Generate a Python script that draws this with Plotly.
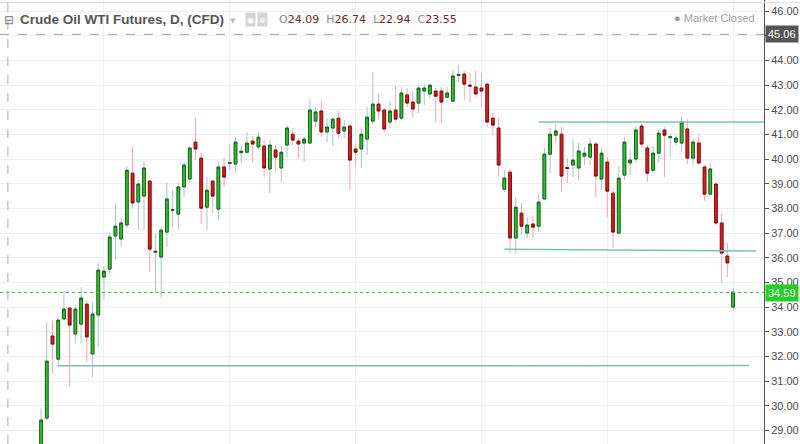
import plotly.graph_objects as go

# ---- data ----
opens = [28.30, 29.50, 32.83, 31.89, 33.52, 33.96, 32.91, 33.31, 34.12, 32.10,
         33.68, 35.22, 35.54, 36.88, 36.76, 37.33, 39.43, 38.26, 38.50, 39.11,
         36.22, 36.03, 37.04, 37.92, 37.77, 38.87, 39.19, 40.69, 40.04, 38.05,
         39.11, 37.97, 39.68, 39.82, 39.80, 40.26, 40.28, 40.73, 40.49, 40.53,
         39.60, 40.37, 39.64, 40.57, 41.01, 40.73, 40.65, 40.65, 41.54, 41.95,
         41.10, 41.26, 41.66, 41.14, 41.34, 40.41, 40.41, 40.81, 41.54, 42.23,
         41.99, 41.50, 41.99, 41.66, 42.60, 42.31, 42.27, 42.76, 42.64, 42.76,
         42.76, 42.51, 42.35, 43.39, 43.45, 43.00, 42.92, 42.88, 43.04, 41.66,
         41.26, 38.78, 39.47, 36.80, 37.81, 37.00, 37.37, 37.28, 38.38, 40.20,
         40.97, 41.01, 39.66, 39.76, 39.64, 40.12, 40.08, 40.61, 39.19, 39.88,
         38.62, 37.00, 39.35, 39.84, 40.00, 41.34, 40.45, 39.55, 40.24, 41.18,
         40.87, 40.69, 40.65, 41.22, 40.04, 40.65, 39.68, 38.58, 38.99, 37.41,
         36.07, 34.00]
highs = [29.90, 33.35, 33.43, 33.56, 34.65, 34.00, 34.00, 34.81, 34.29, 34.20,
         35.79, 35.66, 37.04, 38.22, 37.61, 39.72, 40.49, 39.15, 39.92, 39.15,
         37.00, 37.24, 39.07, 38.74, 39.03, 39.88, 40.53, 41.66, 40.24, 39.27,
         39.15, 39.88, 40.08, 40.61, 40.89, 40.57, 41.10, 40.93, 41.10, 40.77,
         40.77, 40.57, 40.53, 41.38, 41.26, 40.85, 40.93, 42.43, 42.11, 42.39,
         41.66, 41.70, 41.95, 41.58, 41.40, 40.65, 41.30, 42.11, 43.53, 42.68,
         42.07, 42.35, 42.96, 42.92, 42.88, 42.72, 43.00, 43.04, 43.04, 42.88,
         42.92, 42.92, 43.61, 43.81, 43.57, 43.49, 43.61, 43.49, 43.08, 41.87,
         41.70, 39.55, 39.60, 38.46, 38.22, 37.65, 37.69, 38.62, 40.45, 41.26,
         41.46, 41.30, 40.04, 40.81, 40.65, 40.49, 40.85, 40.69, 40.45, 40.08,
         38.82, 39.72, 40.89, 40.37, 41.34, 41.46, 40.57, 40.53, 41.18, 41.30,
         41.05, 40.97, 41.74, 41.62, 40.81, 40.97, 39.76, 39.84, 39.00, 37.77,
         36.60, 34.77]
lows = [28.00, 29.40, 31.33, 31.57, 33.45, 30.76, 32.54, 32.54, 31.77, 31.16,
        32.38, 34.29, 35.34, 35.91, 36.43, 37.20, 38.01, 37.12, 37.12, 35.42,
        34.57, 34.37, 36.43, 37.24, 37.12, 38.46, 39.03, 39.96, 37.37, 37.12,
        37.81, 37.53, 38.87, 39.55, 39.47, 39.84, 40.20, 39.88, 40.37, 39.27,
        38.62, 39.47, 39.07, 40.08, 40.57, 40.04, 39.88, 40.60, 41.30, 40.89,
        40.69, 40.53, 40.85, 40.85, 38.74, 39.68, 39.64, 40.16, 41.46, 41.62,
        41.10, 41.26, 41.50, 41.58, 42.11, 41.70, 41.87, 42.19, 42.47, 41.50,
        41.46, 42.47, 42.31, 43.12, 42.39, 42.31, 42.51, 42.11, 41.30, 40.97,
        39.35, 38.66, 36.19, 36.19, 36.92, 36.80, 36.80, 37.04, 38.34, 39.43,
        40.65, 38.66, 39.03, 39.27, 39.15, 39.76, 39.76, 38.46, 38.74, 37.65,
        36.39, 36.95, 39.15, 39.35, 39.84, 40.45, 39.07, 39.43, 39.84, 39.27,
        40.08, 40.53, 40.28, 39.80, 39.76, 39.80, 38.30, 38.54, 37.33, 34.97,
        35.22, 33.88]
closes = [29.42, 31.81, 32.50, 33.47, 33.92, 33.27, 33.92, 34.37, 32.79, 33.72,
          35.50, 35.46, 36.84, 37.28, 37.41, 39.55, 38.22, 38.99, 39.64, 36.35,
          36.26, 37.12, 38.38, 37.95, 38.87, 39.76, 40.45, 40.41, 38.01, 38.74,
          38.50, 39.68, 39.27, 39.86, 40.69, 40.32, 40.65, 40.61, 40.89, 39.64,
          40.57, 40.08, 40.28, 41.26, 40.77, 40.61, 40.81, 41.99, 41.91, 41.10,
          41.30, 41.62, 41.05, 41.30, 39.96, 40.28, 41.01, 41.70, 42.23, 41.95,
          41.22, 41.95, 41.62, 42.68, 42.27, 42.03, 42.88, 42.88, 43.00, 42.55,
          42.31, 42.68, 43.37, 43.43, 43.04, 42.96, 42.64, 42.76, 41.50, 41.38,
          39.76, 39.23, 36.80, 38.05, 37.28, 37.33, 37.24, 38.26, 40.20, 41.01,
          41.14, 39.31, 39.62, 39.96, 40.33, 40.24, 40.61, 39.31, 40.24, 38.70,
          37.04, 39.23, 40.69, 39.96, 41.18, 40.61, 39.43, 40.24, 41.05, 40.97,
          40.91, 40.85, 41.50, 40.04, 40.69, 39.84, 38.58, 39.60, 37.41, 36.19,
          35.79, 34.61]
days = list(range(len(opens)))

# drawn levels: (start day, start price, end day, end price)
trend_lines = [(3, 31.62, 123.8, 31.63),
               (87, 41.50, 126.4, 41.50),
               (81, 36.35, 125.0, 36.27)]
last_price = 34.59
crosshair_price = 45.06
crosshair_day = -5.8
grid_days = [11, 33, 55, 77, 99, 121]
price_ticks = list(range(29, 47))
# the 45.00 label sits under the 45.06 crosshair tag in the reference
tick_labels = ["" if p == 45 else f"{p:.2f}" for p in price_ticks]
header_title = "Crude Oil WTI Futures, D, (CFD)"
header_ohlc = [("O", "24.09"), ("H", "26.74"), ("L", "22.94"), ("C", "23.55")]

GREEN_FILL, GREEN_EDGE, GREEN_WICK = "#2bc52b", "#1d5e1d", "#a9c3c9"
RED_FILL, RED_EDGE, RED_WICK = "#d91e1e", "#7d1212", "#f0a8aa"

fig = go.Figure()
# wicks (light colours)
fig.add_trace(go.Candlestick(
    x=days, open=opens, high=highs, low=lows, close=closes,
    increasing=dict(line=dict(color=GREEN_WICK, width=1), fillcolor=GREEN_WICK),
    decreasing=dict(line=dict(color=RED_WICK, width=1), fillcolor=RED_WICK),
    hoverinfo="skip", showlegend=False))
# bodies (dark outlines)
body_hi = [max(o, c) for o, c in zip(opens, closes)]
body_lo = [min(o, c) for o, c in zip(opens, closes)]
fig.add_trace(go.Candlestick(
    x=days, open=opens, high=body_hi, low=body_lo, close=closes,
    increasing=dict(line=dict(color=GREEN_EDGE, width=1), fillcolor=GREEN_FILL),
    decreasing=dict(line=dict(color=RED_EDGE, width=1), fillcolor=RED_FILL),
    hoverinfo="skip", showlegend=False))

for x0, y0, x1, y1 in trend_lines:
    fig.add_shape(type="line", x0=x0, y0=y0, x1=x1, y1=y1, xref="x", yref="y",
                  line=dict(color="#7fbfb2", width=1.5))

fig.add_shape(type="line", x0=0, x1=1, xref="paper", y0=last_price, y1=last_price,
              yref="y", line=dict(color="#3cbf3c", width=1, dash="dot"))
fig.add_shape(type="line", x0=0, x1=1, xref="paper", y0=crosshair_price,
              y1=crosshair_price, yref="y", line=dict(color="#a0a0a0", width=1, dash="dash"))
fig.add_shape(type="line", x0=crosshair_day, x1=crosshair_day, xref="x", y0=0, y1=1,
              yref="paper", line=dict(color="#a8a8a8", width=1, dash="dash"))
fig.add_shape(type="line", x0=0, x1=1.05, xref="paper", y0=0.994, y1=0.994,
              yref="paper", line=dict(color="#d8d8d8", width=1))

W, H = 764, 444
def px(v):
    return v / W
def py(v):
    return 1 - v / H

anns = []
anns.append(dict(x=px(2), y=py(19), text="⊟", font=dict(size=12, color="#777"),
                 xanchor="left", yanchor="middle", showarrow=False))
anns.append(dict(x=px(18), y=py(19), text="<b>" + header_title + "</b>",
                 font=dict(family="Liberation Sans", size=13.5, color="#555555"),
                 xanchor="left", yanchor="middle", showarrow=False))
anns.append(dict(x=px(228), y=py(19), text="▾", font=dict(size=11, color="#bbbbbb"),
                 xanchor="left", yanchor="middle", showarrow=False))
for xi, g in [(245, "◉"), (257, "✲")]:
    anns.append(dict(x=px(xi), y=py(19), text=g, font=dict(size=8, color="#ffffff"),
                     bgcolor="#d4d4d4", borderpad=1, xanchor="left", yanchor="middle",
                     showarrow=False))
ohlc_txt = "&nbsp;&nbsp;".join(
    f"<span style='color:#8a8a8a'>{k}</span><span style='color:#6e2a2a'>{v}</span>"
    for k, v in header_ohlc)
anns.append(dict(x=px(277), y=py(19), text=ohlc_txt,
                 font=dict(family="DejaVu Sans", size=11, color="#6e2a2a"),
                 xanchor="left", yanchor="middle", showarrow=False))
anns.append(dict(x=px(757), y=py(18),
                 text="<span style='color:#9a9a9a'>●</span> Market Closed",
                 font=dict(family="Liberation Sans", size=11, color="#a0a0a0"),
                 xanchor="right", yanchor="middle", showarrow=False))
anns.append(dict(x=1, xref="paper", y=crosshair_price, yref="y", text=f"{crosshair_price:.2f}",
                 font=dict(family="Liberation Sans", size=11, color="#ffffff"),
                 bgcolor="#555555", borderpad=2, xanchor="left", yanchor="middle",
                 showarrow=False, xshift=1))
anns.append(dict(x=1, xref="paper", y=last_price, yref="y", text=f"{last_price:.2f}",
                 font=dict(family="Liberation Sans", size=11, color="#ffffff"),
                 bgcolor="#22d022", borderpad=2, xanchor="left", yanchor="middle",
                 showarrow=False, xshift=1))
for a in anns:
    a.setdefault("xref", "paper")
    a.setdefault("yref", "paper")

fig.update_layout(
    width=800, height=444,
    margin=dict(l=0, r=36, t=0, b=0),
    paper_bgcolor="white", plot_bgcolor="white",
    boxmode="overlay",
    showlegend=False,
    annotations=anns,
    xaxis=dict(range=[-7.18, 126.4], rangeslider=dict(visible=False),
               tickvals=grid_days, showticklabels=False, showgrid=True,
               gridcolor="#f0f0f0", zeroline=False, showline=False, ticks=""),
    yaxis=dict(range=[28.45, 46.45], side="right", tickvals=price_ticks,
               ticktext=tick_labels, showgrid=True, gridcolor="#efefef",
               zeroline=False, showline=True, linecolor="#555555", linewidth=1,
               ticks="outside", ticklen=4, tickcolor="#555555", automargin=False,
               tickfont=dict(family="Liberation Sans", size=11, color="#4d4d4d")),
)

fig.write_html("out.html", config={"displayModeBar": False},
               post_script="document.body.style.margin='0';document.body.style.overflow='hidden';")
